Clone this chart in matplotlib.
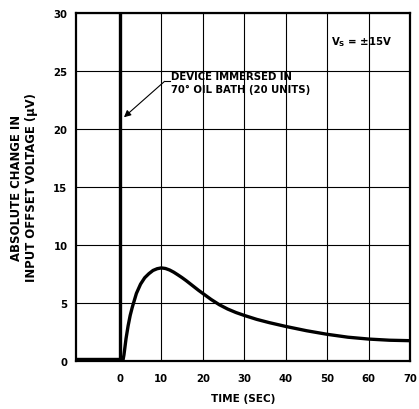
import matplotlib.pyplot as plt
import numpy as np

# data
time_s = [-10.6, 0.8, 1, 1.5, 2, 2.5, 3, 4, 5, 6, 7, 8, 9, 10, 11, 12, 13,
          14, 15, 16, 17, 18, 19, 20, 22, 24, 26, 28, 30, 33, 36, 40, 45,
          50, 55, 60, 65, 70]
offset_uv = [0.1, 0.1, 0.5, 1.9, 3.0, 3.9, 4.6, 5.8, 6.6, 7.15, 7.5, 7.78,
             7.93, 8.0, 7.95, 7.82, 7.63, 7.4, 7.16, 6.9, 6.62, 6.34, 6.06,
             5.8, 5.28, 4.82, 4.45, 4.15, 3.9, 3.56, 3.28, 2.95, 2.58, 2.27,
             2.02, 1.86, 1.76, 1.72]
x_ticks = [0, 10, 20, 30, 40, 50, 60, 70]
y_ticks = [0, 5, 10, 15, 20, 25, 30]
immersed_at = 0

plt.rcParams['font.family'] = ['DejaVu Sans']
plt.rcParams['font.weight'] = 'bold'

fig = plt.figure(figsize=(4.19, 4.10), dpi=100)
ax = fig.add_axes([0.181, 0.118, 0.798, 0.848])

ax.set_xlim(-10.6, 70)
ax.set_ylim(0, 30)
ax.set_xticks(x_ticks)
ax.set_yticks(y_ticks)
ax.grid(True, color='black', linewidth=0.8)
ax.tick_params(length=0, labelsize=7.3)
ax.tick_params(axis='y', pad=6)
ax.tick_params(axis='x', pad=9)
for lab in ax.get_xticklabels() + ax.get_yticklabels():
    lab.set_fontweight('bold')
for s in ax.spines.values():
    s.set_linewidth(1.6)

# thick line where the device goes into the bath
ax.axvline(immersed_at, color='black', linewidth=2.4, zorder=3)

ax.plot(time_s, offset_uv, color='black', linewidth=2.4, zorder=4,
        solid_capstyle='butt', solid_joinstyle='round')

# annotation with arrow
ax.annotate('', xy=(1.0, 21.0), xytext=(10.8, 24.1),
            arrowprops=dict(arrowstyle='-|>', color='black', lw=0.8,
                            mutation_scale=10, shrinkA=0, shrinkB=0))
ax.plot([10.8, 12.0], [24.1, 24.1], color='black', linewidth=0.8)
ax.text(12.4, 24.0, 'DEVICE IMMERSED IN\n70° OIL BATH (20 UNITS)',
        fontsize=7.3, fontweight='bold', va='center', ha='left',
        linespacing=1.3, zorder=5)

ax.text(50.8, 27.6, r'V$_\mathbf{S}$ = ±15V', fontsize=7.3,
        fontweight='bold', va='center', ha='left')

ax.set_xlabel('TIME (SEC)', fontsize=7.6, fontweight='bold', labelpad=7)
ax.set_ylabel('ABSOLUTE CHANGE IN\nINPUT OFFSET VOLTAGE (μV)', fontsize=8.4,
              fontweight='bold', labelpad=11, linespacing=1.2)

fig.savefig('out.png', dpi=100)
